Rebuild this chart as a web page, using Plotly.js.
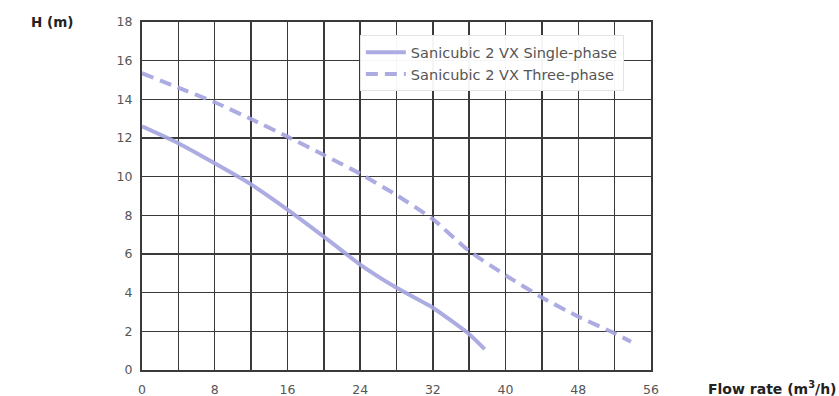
<!DOCTYPE html>
<html>
<head>
<meta charset="utf-8">
<script src="https://cdn.plot.ly/plotly-3.0.1.min.js"></script>
<style>html,body{margin:0;padding:0;background:#fff;}#chart{width:839px;height:396px;}</style>
</head>
<body>
<div id="chart"></div>
<script>
const singleFlow = [0, 4, 8, 12, 16, 20, 24, 28, 32, 36, 37.7];
const singleHead = [12.6, 11.73, 10.69, 9.6, 8.3, 6.9, 5.45, 4.25, 3.22, 1.85, 1.08];
const threeFlow = [0, 4, 8, 12, 16, 20, 24, 28, 32, 36, 40, 44, 48, 52, 53.8];
const threeHead = [15.35, 14.6, 13.85, 12.98, 12.07, 11.12, 10.15, 9.05, 7.8, 6.15, 4.9, 3.75, 2.76, 1.9, 1.46];
const seriesNames = ["Sanicubic 2 VX Single-phase", "Sanicubic 2 VX Three-phase"];
const xTicks = [0, 8, 16, 24, 32, 40, 48, 56];
const yTicks = [0, 2, 4, 6, 8, 10, 12, 14, 16, 18];

const lineColor = "rgba(165,165,224,0.92)";
const traces = [
  {x: singleFlow, y: singleHead, name: seriesNames[0], mode: "lines",
   line: {color: lineColor, width: 4, shape: "spline", smoothing: 0.5}},
  {x: threeFlow, y: threeHead, name: seriesNames[1], mode: "lines",
   line: {color: lineColor, width: 4, dash: "12px,7px", shape: "spline", smoothing: 0.5}}
];

const fam = "DejaVu Sans, Noto Sans, sans-serif";
const layout = {
  width: 839, height: 396,
  margin: {l: 142, r: 188, t: 22, b: 26, pad: 0},
  paper_bgcolor: "#ffffff", plot_bgcolor: "#ffffff",
  font: {family: fam, size: 12, color: "#555"},
  showlegend: true,
  legend: {x: 0.428, y: 0.962, xanchor: "left", yanchor: "top",
           bgcolor: "rgba(255,255,255,0.95)", bordercolor: "#e4e4e4", borderwidth: 1,
           font: {family: fam, size: 14.5, color: "#555"},
           itemwidth: 40, tracegroupgap: 0},
  xaxis: {range: [0, 56], tickvals: xTicks, ticktext: xTicks.map(String),
          showgrid: true, gridcolor: "#3a3a3a", gridwidth: 1.5,
          minor: {dtick: 4, tick0: 0, showgrid: true, gridcolor: "#3a3a3a", gridwidth: 1.5},
          showline: true, linecolor: "#3a3a3a", linewidth: 2, mirror: true,
          zeroline: false, ticks: "", ticklen: 0, ticklabelstandoff: 7,
          tickfont: {family: fam, size: 12.5, color: "#555"},
          automargin: false, fixedrange: true},
  yaxis: {range: [0, 18], tickvals: yTicks, ticktext: yTicks.map(String),
          showgrid: true, gridcolor: "#3a3a3a", gridwidth: 1.5,
          showline: true, linecolor: "#3a3a3a", linewidth: 2, mirror: true,
          zeroline: false, ticks: "", ticklen: 0, ticklabelstandoff: 5,
          tickfont: {family: fam, size: 12.5, color: "#555"},
          automargin: false, fixedrange: true},
  annotations: [
    {text: "<b>H (m)</b>", xref: "paper", yref: "paper", x: -0.176, y: 1.0,
     xanchor: "center", yanchor: "middle", showarrow: false,
     font: {family: fam, size: 13.5, color: "#222"}},
    {text: "<b>Flow rate (m<sup>3</sup>/h)</b>", xref: "paper", yref: "paper", x: 1.37, y: -0.052,
     xanchor: "right", yanchor: "middle", showarrow: false,
     font: {family: fam, size: 14, color: "#222"}}
  ]
};
Plotly.newPlot("chart", traces, layout, {displayModeBar: false, staticPlot: true});
</script>
</body>
</html>
